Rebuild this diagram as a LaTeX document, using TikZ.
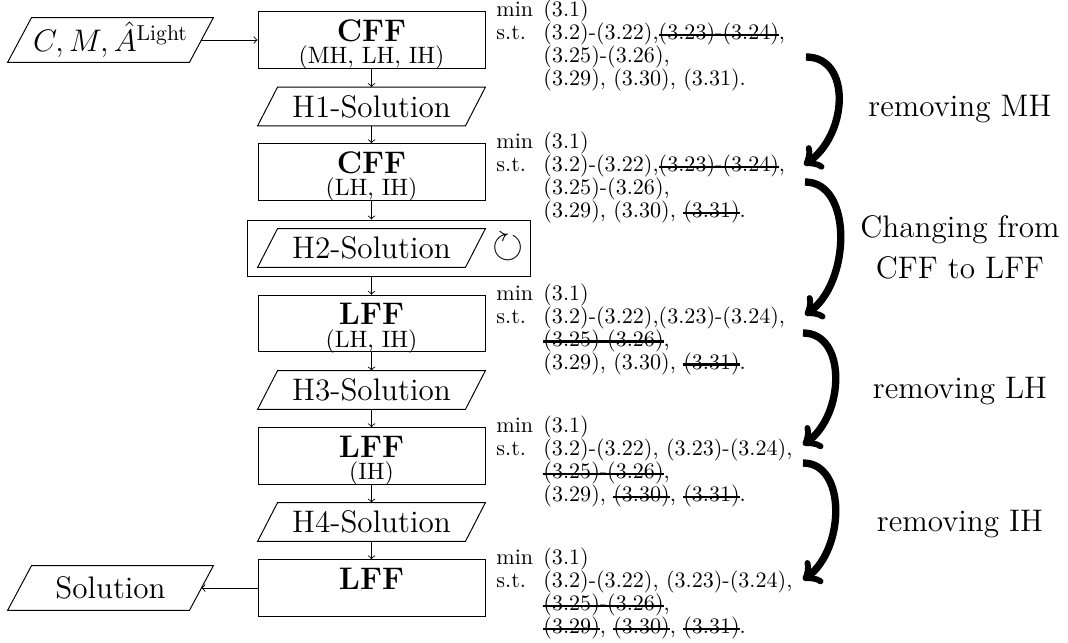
\documentclass[tikz,border=0pt]{standalone}
\usepackage{amssymb}
\usetikzlibrary{calc}

% one drawing unit
\newcommand{\pxu}{0.462pt}
% struck-out constraint reference
\newcommand{\strk}[1]{\leavevmode\setbox0\hbox{#1}\rlap{\raisebox{0.21em}{\rule[-0.6pt]{\wd0}{1.2pt}}}\box0}
% outline of a data (parallelogram) node, drawn on its rectangle
\newcommand{\slantbox}[2]{\draw[slantline] ([xshift=#2*\pxu]#1.north west) -- (#1.north east) -- ([xshift=-#2*\pxu]#1.south east) -- (#1.south west) -- cycle;}

\tikzset{
  stagebox/.style={draw, line width=0.45pt, minimum width=227*\pxu, minimum height=56.5*\pxu, inner sep=0pt},
  loopbox/.style={draw, line width=0.45pt, minimum width=283*\pxu, minimum height=56*\pxu, inner sep=0pt},
  solbox/.style={minimum width=227*\pxu, minimum height=38*\pxu, inner sep=0pt, font=\fontsize{14.4}{17}\selectfont},
  iobox/.style={minimum width=205*\pxu, minimum height=44*\pxu, inner sep=0pt, font=\fontsize{14.4}{17}\selectfont},
  slantline/.style={line width=0.45pt, line join=miter},
  boxtitle/.style={anchor=base, inner sep=0pt, font=\fontsize{14.4}{17}\selectfont\bfseries},
  boxsub/.style={anchor=base, inner sep=0pt, font=\fontsize{10.95}{13}\selectfont},
  modelnote/.style={anchor=base west, inner sep=0pt, font=\fontsize{10.2}{10}\selectfont},
  sidenote/.style={inner sep=0pt, align=center, font=\fontsize{14.4}{18.9}\selectfont},
  flow/.style={->, line width=0.4pt},
  bigarrow/.style={->, line width=3.4pt},
}

\begin{document}
\begin{tikzpicture}[x=\pxu, y=-\pxu]
\useasboundingbox (0,0) rectangle (1068,643);

% input data
\node[iobox] (in) at (110.5,40) {$C, M, \hat{A}^{\mathrm{Light}}$};
\slantbox{in}{24}

% main column
\node[stagebox] (b1) at (371.5,40) {};
\node[boxtitle] (b1t) at (371.5,41.3) {CFF};
\node[boxsub] (b1s) at (371.5,63.8) {(MH, LH, IH)};

\node[solbox] (h1) at (371.5,106.5) {H1-Solution};
\slantbox{h1}{20}

\node[stagebox] (b2) at (371.5,172) {};
\node[boxtitle] (b2t) at (371.5,173.3) {CFF};
\node[boxsub] (b2s) at (371.5,195.8) {(LH, IH)};

\node[loopbox] (h2box) at (388.5,248) {};
\node[solbox] (h2) at (371.5,248) {H2-Solution};
\slantbox{h2}{20}
\node[inner sep=0pt, font=\fontsize{18.5}{20}\selectfont] (loop) at (508,247) {$\circlearrowright$};

\node[stagebox] (b3) at (371.5,323.5) {};
\node[boxtitle] (b3t) at (371.5,324.8) {LFF};
\node[boxsub] (b3s) at (371.5,347.3) {(LH, IH)};

\node[solbox] (h3) at (371.5,390) {H3-Solution};
\slantbox{h3}{20}

\node[stagebox] (b4) at (371.5,456) {};
\node[boxtitle] (b4t) at (371.5,457.3) {LFF};
\node[boxsub] (b4s) at (371.5,479.8) {(IH)};

\node[solbox] (h4) at (371.5,522) {H4-Solution};
\slantbox{h4}{20}

\node[stagebox] (b5) at (371.5,588) {};
\node[boxtitle] (b5t) at (371.5,589.3) {LFF};

% output data
\node[iobox] (sol) at (110.5,588) {Solution};
\slantbox{sol}{24}

% flow
\draw[flow] ([xshift=-12*\pxu]in.east) -- (b1.west);
\draw[flow] (b1.south) -- (h1.north);
\draw[flow] (h1.south) -- (b2.north);
\draw[flow] (b2.south) -- (b2.south |- h2box.north);
\draw[flow] (h2box.south -| b3.north) -- (b3.north);
\draw[flow] (b3.south) -- (h3.north);
\draw[flow] (h3.south) -- (b4.north);
\draw[flow] (b4.south) -- (h4.north);
\draw[flow] (h4.south) -- (b5.north);
\draw[flow] (b5.west) -- ([xshift=-12*\pxu]sol.east);

% models
\node[modelnote] (m1) at (496,16.5) {\begin{tabular}[t]{@{}l@{\hspace{4.7pt}}l@{}}
min & (3.1)\\
s.t. & (3.2)-(3.22),\strk{(3.23)-(3.24)},\\
 & (3.25)-(3.26),\\
 & (3.29), (3.30), (3.31).
\end{tabular}};
\node[modelnote] (m2) at (496,148.5) {\begin{tabular}[t]{@{}l@{\hspace{4.7pt}}l@{}}
min & (3.1)\\
s.t. & (3.2)-(3.22),\strk{(3.23)-(3.24)},\\
 & (3.25)-(3.26),\\
 & (3.29), (3.30), \strk{(3.31)}.
\end{tabular}};
\node[modelnote] (m3) at (496,300) {\begin{tabular}[t]{@{}l@{\hspace{4.7pt}}l@{}}
min & (3.1)\\
s.t. & (3.2)-(3.22),(3.23)-(3.24),\\
 & \strk{(3.25)-(3.26)},\\
 & (3.29), (3.30), \strk{(3.31)}.
\end{tabular}};
\node[modelnote] (m4) at (496,432.5) {\begin{tabular}[t]{@{}l@{\hspace{4.7pt}}l@{}}
min & (3.1)\\
s.t. & (3.2)-(3.22), (3.23)-(3.24),\\
 & \strk{(3.25)-(3.26)},\\
 & (3.29), \strk{(3.30)}, \strk{(3.31)}.
\end{tabular}};
\node[modelnote] (m5) at (496,564.5) {\begin{tabular}[t]{@{}l@{\hspace{4.7pt}}l@{}}
min & (3.1)\\
s.t. & (3.2)-(3.22), (3.23)-(3.24),\\
 & \strk{(3.25)-(3.26)},\\
 & \strk{(3.29)}, \strk{(3.30)}, \strk{(3.31)}.
\end{tabular}};

% model changes
\coordinate (r1s) at (806,57);
\coordinate (r1e) at (804,165);
\coordinate (r2s) at (805,182);
\coordinate (r2e) at (805,315);
\coordinate (r3s) at (803,333);
\coordinate (r3e) at (803,445);
\coordinate (r4s) at (803,463);
\coordinate (r4e) at (803,580);
\draw[bigarrow] (r1s) .. controls +(46,0) and +(44,-30) .. (r1e);
\draw[bigarrow] (r2s) .. controls +(48,0) and +(46,-32) .. (r2e);
\draw[bigarrow] (r3s) .. controls +(44,0) and +(42,-30) .. (r3e);
\draw[bigarrow] (r4s) .. controls +(44,0) and +(42,-30) .. (r4e);

\node[sidenote, anchor=base] (l1) at (960,116) {removing MH};
\node[sidenote] (l2) at (960,247.5) {Changing from\\CFF to LFF};
\node[sidenote, anchor=base] (l3) at (960,398) {removing LH};
\node[sidenote, anchor=base] (l4) at (960,531) {removing IH};
\end{tikzpicture}
\end{document}
